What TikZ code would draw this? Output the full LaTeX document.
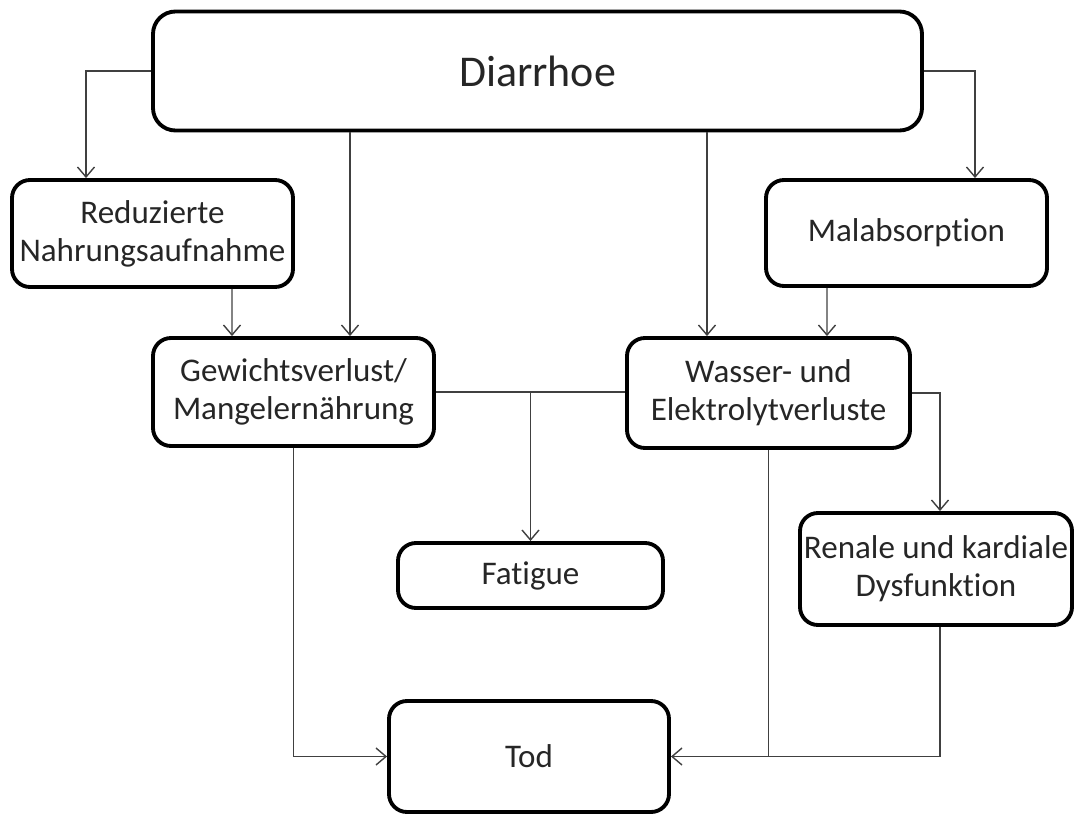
\documentclass[tikz,border=0pt]{standalone}
\usepackage{fontspec}
\setmainfont{Carlito}[Ligatures=NoCommon]
\usetikzlibrary{arrows.meta}
\begin{document}
\begin{tikzpicture}[semithick,
    box/.style={draw,line width=2.2pt,rounded corners=0.36cm,align=center,
      inner sep=0pt,text=black!85,font=\fontsize{18.8}{21.6}\selectfont},
    arr/.style={draw=black!75,line width=0.8pt,-{Straight Barb[length=2mm,width=3.4mm]}},
    ln/.style={draw=black!75,line width=0.8pt}]
    \useasboundingbox (0,0) rectangle (21.5,-16.28);
    \node[box,minimum width=15.38cm,minimum height=2.38cm,rounded corners=0.45cm,
      font=\fontsize{25}{30}\selectfont] (diar) at (10.75,-1.42) {Diarrhoe};
    \node[box,minimum width=5.62cm,minimum height=2.14cm] (redu) at (3.05,-4.67) {Reduzierte\\Nahrungsaufnahme};
    \node[box,minimum width=5.62cm,minimum height=2.12cm] (mala) at (18.13,-4.66) {Malabsorption};
    \node[box,minimum width=5.62cm,minimum height=2.16cm] (gew) at (5.87,-7.84) {Gewichtsverlust/\\Mangelernährung};
    \node[box,minimum width=5.66cm,minimum height=2.2cm] (wass) at (15.37,-7.86) {Wasser- und\\Elektrolytverluste};
    \node[box,minimum width=5.3cm,minimum height=1.3cm] (fat) at (10.61,-11.51) {Fatigue};
    \node[box,minimum width=5.44cm,minimum height=2.24cm] (ren) at (18.72,-11.38) {Renale und kardiale\\Dysfunktion};
    \node[box,minimum width=5.6cm,minimum height=2.22cm] (tod) at (10.58,-15.13) {Tod};
    \draw[arr] (diar.west) -| ([xshift=-1.33cm]redu.north);
    \draw[arr] (diar.east) -| ([xshift=1.37cm]mala.north);
    \draw[arr] ([xshift=1.13cm]gew.north |- diar.south) -- ([xshift=1.13cm]gew.north);
    \draw[arr] ([xshift=-1.23cm]wass.north |- diar.south) -- ([xshift=-1.23cm]wass.north);
    \draw[arr] ([xshift=1.59cm]redu.south) -- ([xshift=-1.23cm]gew.north);
    \draw[arr] ([xshift=-1.59cm]mala.south) -- ([xshift=1.17cm]wass.north);
    \draw[ln] (gew.east) -- (gew.east -| wass.west);
    \coordinate (jn) at (fat.north |- gew.east);
    \draw[arr] (jn) -- (fat.north);
    \draw[arr] (gew.south) |- (tod.west);
    \draw[arr] (wass.south) |- (tod.east);
    \draw[arr] (wass.east) -| ([xshift=0.08cm]ren.north);
    \draw[ln] ([xshift=0.08cm]ren.south) |- (wass.south |- tod.east);
\end{tikzpicture}
\end{document}
